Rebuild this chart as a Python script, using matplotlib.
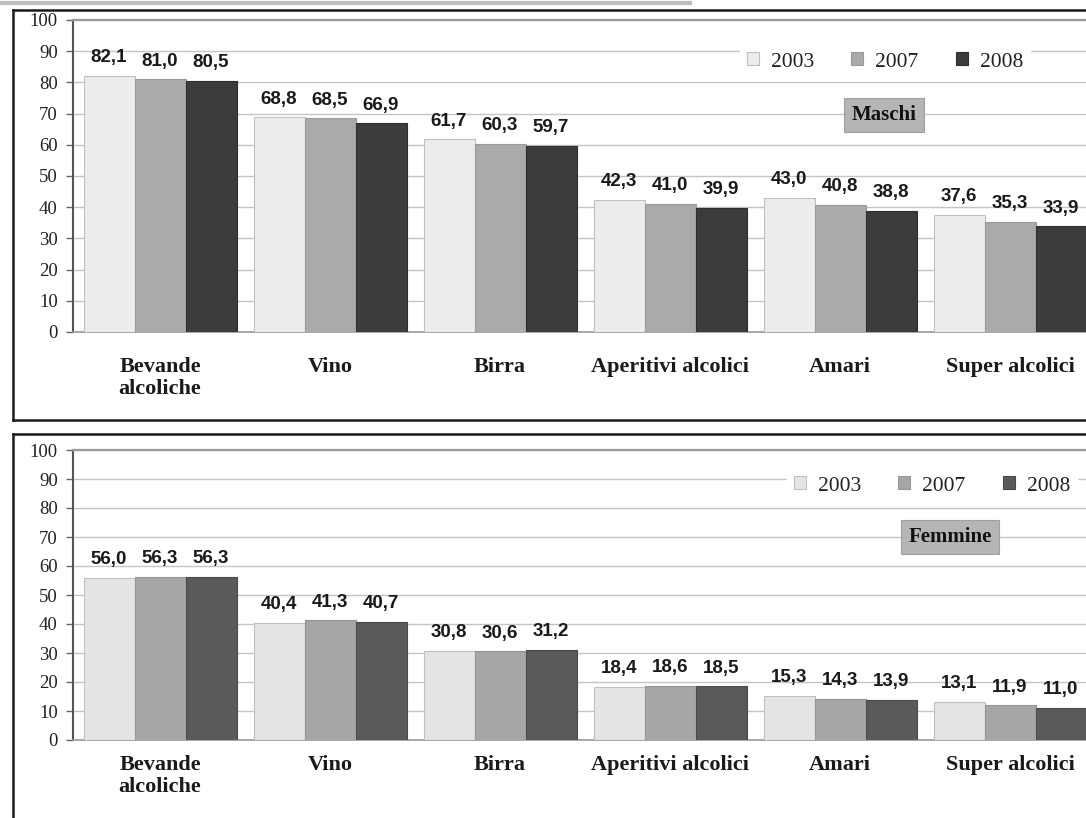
import matplotlib
matplotlib.use("Agg")
import matplotlib.pyplot as plt
import numpy as np
from matplotlib.lines import Line2D

categories = ["Bevande\nalcoliche", "Vino", "Birra", "Aperitivi alcolici", "Amari", "Super alcolici"]
years = ["2003", "2007", "2008"]

maschi_2003 = [82.1, 68.8, 61.7, 42.3, 43.0, 37.6]
maschi_2007 = [81.0, 68.5, 60.3, 41.0, 40.8, 35.3]
maschi_2008 = [80.5, 66.9, 59.7, 39.9, 38.8, 33.9]

femmine_2003 = [56.0, 40.4, 30.8, 18.4, 15.3, 13.1]
femmine_2007 = [56.3, 41.3, 30.6, 18.6, 14.3, 11.9]
femmine_2008 = [56.3, 40.7, 31.2, 18.5, 13.9, 11.0]

yticks = [0, 10, 20, 30, 40, 50, 60, 70, 80, 90, 100]

W, H = 1086, 818
fig = plt.figure(figsize=(W / 100, H / 100), dpi=100)
fig.patch.set_facecolor("white")

SERIF = "Liberation Serif"
SANS = "Liberation Sans"


def fx(px):
    return px / W


def fy(py):
    return 1 - py / H


def draw_panel(ax, series, colors, edgecols, title, title_xy, legend_xy, xpad):
    x = np.arange(len(categories))
    width = 0.3
    offsets = [-width, 0, width]
    for s, off, c, ec, lab in zip(series, offsets, colors, edgecols, years):
        bars = ax.bar(x + off, s, width, color=c, edgecolor=ec, linewidth=0.8,
                      label=lab, zorder=3)
        for b, v in zip(bars, s):
            ax.annotate(f"{v:.1f}".replace(".", ","),
                        (b.get_x() + b.get_width() / 2, b.get_height()),
                        xytext=(0, 7), textcoords="offset points",
                        ha="center", va="bottom", fontsize=13.5,
                        fontweight="bold", family=SANS, color="#1a1a1a",
                        zorder=5)
    ax.set_ylim(0, 100)
    ax.set_xlim(-0.512, 5.447)
    ax.set_yticks(yticks)
    ax.set_yticklabels([str(t) for t in yticks], family=SERIF, fontsize=13.5,
                       color="#222222")
    ax.set_xticks(x)
    ax.set_xticklabels(categories, family=SERIF, fontsize=16, fontweight="bold",
                       color="#1a1a1a", linespacing=1.1)
    ax.tick_params(axis="x", length=0, pad=xpad)
    ax.tick_params(axis="y", length=5, width=1, color="#666666", pad=6)
    ax.grid(axis="y", color="#c4c4c4", linewidth=1, zorder=0)
    ax.set_axisbelow(True)
    ax.spines["right"].set_visible(False)
    ax.spines["top"].set_color("#9a9a9a")
    ax.spines["top"].set_linewidth(1.6)
    ax.spines["left"].set_color("#555555")
    ax.spines["left"].set_linewidth(1.5)
    ax.spines["bottom"].set_color("#9a9a9a")
    ax.spines["bottom"].set_linewidth(1.2)
    ax.set_facecolor("white")

    leg = ax.legend(loc="center", bbox_to_anchor=legend_xy,
                    bbox_transform=fig.transFigure, ncol=3, frameon=True,
                    prop={"family": SERIF, "size": 15.5},
                    handlelength=0.55, handleheight=0.55, handletextpad=0.55,
                    columnspacing=1.75, borderpad=0.3, fancybox=False)
    leg.get_frame().set_facecolor("white")
    leg.get_frame().set_edgecolor("white")
    leg.get_frame().set_alpha(1)
    leg.set_zorder(6)
    for t in leg.get_texts():
        t.set_color("#222222")

    fig.text(title_xy[0], title_xy[1], title, family=SERIF, fontsize=15,
             fontweight="bold", ha="center", va="center", color="#111111",
             bbox=dict(boxstyle="square,pad=0.35", facecolor="#b5b5b5",
                       edgecolor="#a0a0a0", linewidth=0.8), zorder=7)


# Top panel axes (Maschi)
ax1 = fig.add_axes([fx(73), fy(332), 1 - fx(73), fy(20) - fy(332)])
draw_panel(ax1, [maschi_2003, maschi_2007, maschi_2008],
           ["#ececec", "#aaaaaa", "#3c3c3c"],
           ["#c0c0c0", "#9a9a9a", "#2e2e2e"],
           "Maschi", (fx(884), fy(115)), (fx(885), fy(62)), 18)

# Bottom panel axes (Femmine)
ax2 = fig.add_axes([fx(73), fy(740), 1 - fx(73), fy(450) - fy(740)])
draw_panel(ax2, [femmine_2003, femmine_2007, femmine_2008],
           ["#e4e4e4", "#a6a6a6", "#5a5a5a"],
           ["#c0c0c0", "#959595", "#4a4a4a"],
           "Femmine", (fx(950), fy(537)), (fx(932), fy(486)), 11)

# Panel frames
lw = 1.8
frame_lines = [
    ((13, 1086), (10, 10)),
    ((13, 13), (10, 420)),
    ((13, 1086), (420, 420)),
    ((13, 1086), (434, 434)),
    ((13, 13), (434, 818)),
]
for xs, ys in frame_lines:
    fig.add_artist(Line2D([fx(xs[0]), fx(xs[1])], [fy(ys[0]), fy(ys[1])],
                          color="#1a1a1a", linewidth=lw, transform=fig.transFigure))
# faint strip at top-left (edge of previous box in the scan)
fig.add_artist(Line2D([0, fx(690)], [fy(3), fy(3)], color="#bdbdbd",
                      linewidth=3, transform=fig.transFigure))

fig.savefig("out.png", dpi=100, facecolor="white")
